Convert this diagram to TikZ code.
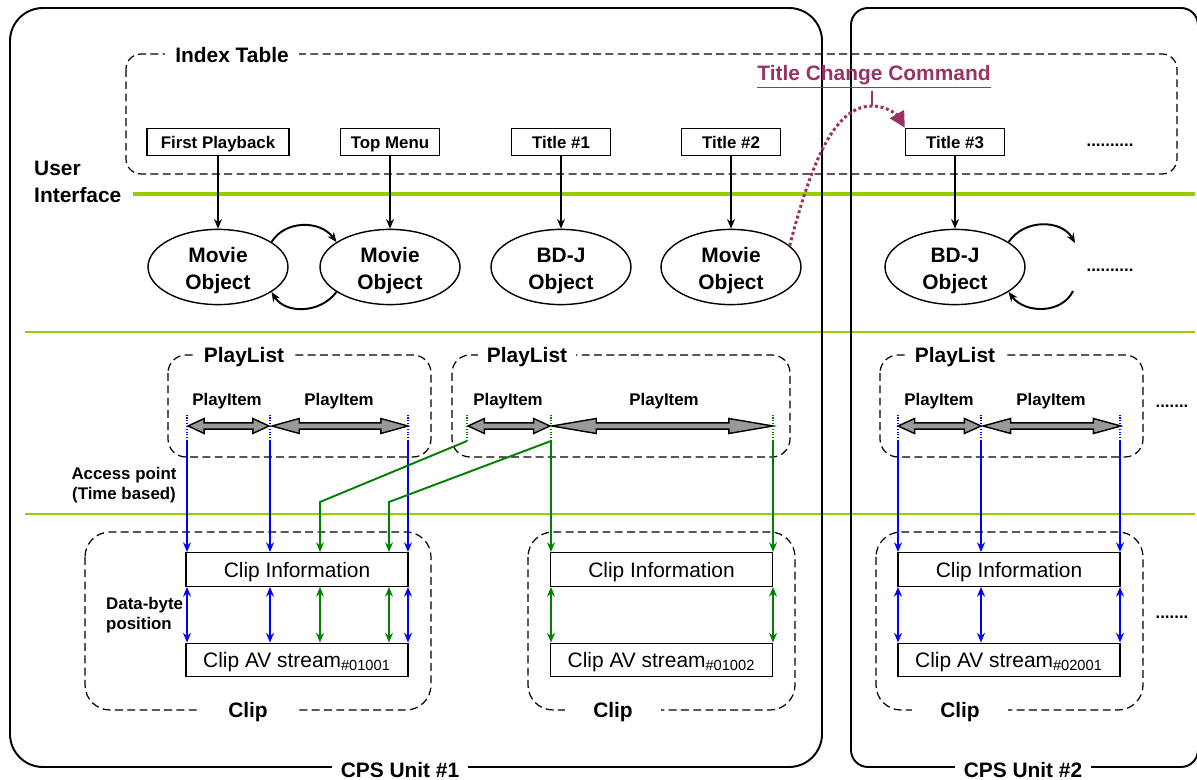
\documentclass[tikz,border=0pt]{standalone}
\usepackage{fontspec}
\setmainfont{Liberation Sans}
\usetikzlibrary{positioning,shapes.geometric,arrows.meta}

\definecolor{uigreen}{HTML}{99CC00}
\definecolor{apblue}{HTML}{0000FF}
\definecolor{apgreen}{HTML}{008000}
\definecolor{cmdpurple}{HTML}{993366}
\definecolor{itemgray}{HTML}{999999}

\newcommand\bigfont{\fontsize{11.9}{15.3}\selectfont\bfseries}
\newcommand\smallfont{\fontsize{9.6}{11.4}\selectfont\bfseries}
\newcommand\clipfont{\fontsize{11.9}{14}\selectfont\mdseries}
\newcommand\objtext[2]{\rule{0pt}{12.5pt}#1\\#2}

% grey double arrow of a play item: from x #1 to x #2 at height #3
\newcommand\playarrow[3]{%
  \pgfmathsetmacro\headlen{0.2*(#2-#1)}
  \filldraw[fill=itemgray,line width=0.8pt]
    (#1,#3) -- (#1+\headlen,#3-7.5) -- (#1+\headlen,#3-3.2)
    -- (#2-\headlen,#3-3.2) -- (#2-\headlen,#3-7.5) -- (#2,#3)
    -- (#2-\headlen,#3+7.5) -- (#2-\headlen,#3+3.2)
    -- (#1+\headlen,#3+3.2) -- (#1+\headlen,#3+7.5) -- cycle;
}

\tikzset{
  cpsbox/.style={line width=1.1pt},
  dashbox/.style={line width=0.7pt,dash pattern=on 4.5pt off 2.5pt},
  gaplabel/.style={fill=white,font=\bigfont,inner ysep=1pt,inner xsep=5pt},
  titlebox/.style={draw,line width=0.8pt,minimum width=1.98cm,minimum height=0.54cm,
    inner sep=0pt,text height=6.9pt,text depth=0pt,font=\smallfont},
  objnode/.style={draw,ellipse,line width=0.8pt,minimum width=2.8cm,minimum height=1.44cm,
    inner sep=0pt,align=center,font=\bigfont},
  clipbox/.style={draw,line width=0.8pt,minimum width=4.44cm,minimum height=0.67cm,
    inner sep=0pt,text height=8.8pt,text depth=0pt,font=\clipfont},
  onehead/.style={-{Stealth[length=5.5pt,width=4.5pt]}},
  twohead/.style={{Stealth[length=5.5pt,width=4.5pt]}-{Stealth[length=5.5pt,width=4.5pt]}},
  blk/.style={onehead,line width=1.1pt},
  blueap/.style={apblue,line width=1.1pt},
  greenap/.style={apgreen,line width=1.1pt},
  apdots/.style={densely dotted,line width=0.6pt}
}

\begin{document}
\begin{tikzpicture}[x=0.02cm,y=-0.02cm,font=\smallfont]
  \useasboundingbox (0,0) rectangle (1197,780);

  % layer lines
  \draw[uigreen,line width=2.8pt] (133,194) -- (1195,194);
  \draw[uigreen,line width=1.4pt] (25,332) -- (1195,332);
  \draw[uigreen,line width=1.4pt] (25,514) -- (1195,514);
  \node[anchor=west,align=left,font=\bigfont] (ui) at (28,182) {User\\Interface};

  % CPS units
  \draw[cpsbox,rounded corners=0.66cm] (10,8) rectangle (822,767);
  \draw[cpsbox,rounded corners=0.34cm] (851,8) rectangle (1198,767);
  \node[gaplabel] (cps1) at (400,770) {CPS Unit \#1};
  \node[gaplabel] (cps2) at (1023,770) {CPS Unit \#2};

  % index table
  \draw[dashbox,rounded corners=0.3cm] (126,54) rectangle (1177,174);
  \node[gaplabel,inner xsep=6pt] (itab) at (232,55) {Index Table};
  \node[titlebox,minimum width=2.84cm] (fp) at (218,142) {First Playback};
  \node[titlebox] (tm) at (390,142) {Top Menu};
  \node[titlebox] (t1) at (561,142) {Title \#1};
  \node[titlebox] (t2) at (731,142) {Title \#2};
  \node[titlebox] (t3) at (955,142) {Title \#3};
  \node (tdots) at (1110,145) {..........};

  % objects
  \node[objnode] (obj1) at (218,267) {\objtext{Movie}{Object}};
  \node[objnode] (obj2) at (390,267) {\objtext{Movie}{Object}};
  \node[objnode] (obj3) at (561,267) {\objtext{BD-J}{Object}};
  \node[objnode] (obj4) at (731,267) {\objtext{Movie}{Object}};
  \node[objnode] (obj5) at (955,267) {\objtext{BD-J}{Object}};
  \node (odots) at (1110,270) {..........};
  \foreach \a/\b in {fp/obj1,tm/obj2,t1/obj3,t2/obj4,t3/obj5}
    \draw[blk] (\a) -- (\b);

  \draw[blk] (obj1.25) .. controls (285,220) and (320,220) .. (obj2.155);
  \draw[blk] (obj2.205) .. controls (320,314) and (285,314) .. (obj1.-25);
  \coordinate (loopin) at (1075,243);
  \coordinate (loopout) at (1073,291);
  \draw[blk] (obj5.25) .. controls (1025,218) and (1062,220) .. (loopin);
  \draw[blk] (loopout) .. controls (1062,314) and (1025,314) .. (obj5.-25);

  % title change
  \node[text=cmdpurple,font=\bigfont,inner sep=1pt] (tcc) at (874,77)
    {\underline{Title Change Command}};
  \coordinate (peak) at (872,106);
  \draw[cmdpurple,line width=0.8pt] (tcc.south -| peak) -- (peak);
  \draw[cmdpurple,line width=1.7pt,dash pattern=on 1.7pt off 1.5pt,
    -{Triangle[length=9pt,width=9pt]}]
    (obj4.20) .. controls (812,160) and (835,106) .. (peak)
    .. controls (888,106) and (898,116) .. (t3.north west);

  % play lists
  \draw[dashbox,rounded corners=0.36cm] (168,355) rectangle (431,457);
  \node[gaplabel] (pl1) at (244,357) {PlayList};
  \draw[dashbox,rounded corners=0.36cm] (452,355) rectangle (790,457);
  \node[gaplabel] (pl2) at (527,357) {PlayList};
  \draw[dashbox,rounded corners=0.36cm] (880,355) rectangle (1143,457);
  \node[gaplabel] (pl3) at (955,357) {PlayList};
  \foreach \x in {227,339,508,664,939,1051}
    \node (pi\x) at (\x,401) {PlayItem};
  \playarrow{188}{269}{426}
  \playarrow{272}{408}{426}
  \playarrow{468}{550}{426}
  \playarrow{552}{773}{426}
  \playarrow{898}{981}{426}
  \playarrow{983}{1121}{426}
  \node (pldots) at (1172,406) {.......};

  % access points
  \foreach \n/\x in {a11/187,a12/270,a13/408,a21/467,a22/551,a23/773,a31/898,a32/981,a33/1120}
    \coordinate (\n) at (\x,441);
  \foreach \n in {a11,a12,a13,a31,a32,a33}
    \draw[apblue,apdots] (\n) -- ++(0,-28);
  \foreach \n in {a21,a22,a23}
    \draw[apgreen,apdots] (\n) -- ++(0,-28);
  \node[align=center] (acc) at (124,485) {Access point\\(Time based)};
  \node[align=left,anchor=west] (dbp) at (100,615) {Data-byte\\position};

  % clips
  \draw[dashbox,rounded corners=0.5cm] (85,532) rectangle (431,710);
  \node[gaplabel,inner xsep=16pt] (clip1) at (248,712) {Clip};
  \node[clipbox] (ci1) at (297,569.5) {Clip Information};
  \node[clipbox] (cs1) at (297,660) {Clip AV stream\textsubscript{\#01001}};

  \draw[dashbox,rounded corners=0.5cm] (528,532) rectangle (795,710);
  \node[gaplabel,inner xsep=16pt] (clip2) at (613,712) {Clip};
  \node[clipbox] (ci2) at (661.5,569.5) {Clip Information};
  \node[clipbox] (cs2) at (661.5,660) {Clip AV stream\textsubscript{\#01002}};

  \draw[dashbox,rounded corners=0.5cm] (876,532) rectangle (1143,710);
  \node[gaplabel,inner xsep=16pt] (clip3) at (960,712) {Clip};
  \node[clipbox] (ci3) at (1009,569.5) {Clip Information};
  \node[clipbox] (cs3) at (1009,660) {Clip AV stream\textsubscript{\#02001}};
  \node (cldots) at (1172,617) {.......};

  \foreach \n in {a11,a12,a13}
  {
    \draw[blueap,onehead] (\n) -- (\n |- ci1.north);
    \draw[blueap,twohead] (\n |- ci1.south) -- (\n |- cs1.north);
  }
  \foreach \n in {a31,a32,a33}
  {
    \draw[blueap,onehead] (\n) -- (\n |- ci3.north);
    \draw[blueap,twohead] (\n |- ci3.south) -- (\n |- cs3.north);
  }
  \foreach \n in {a22,a23}
  {
    \draw[greenap,onehead] (\n) -- (\n |- ci2.north);
    \draw[greenap,twohead] (\n |- ci2.south) -- (\n |- cs2.north);
  }
  \coordinate (g1) at (320,502);
  \coordinate (g2) at (389,502);
  \draw[greenap,onehead] (a21) -- (g1) -- (g1 |- ci1.north);
  \draw[greenap,onehead] (a22) -- (g2) -- (g2 |- ci1.north);
  \foreach \n in {g1,g2}
    \draw[greenap,twohead] (\n |- ci1.south) -- (\n |- cs1.north);

\end{tikzpicture}
\end{document}
